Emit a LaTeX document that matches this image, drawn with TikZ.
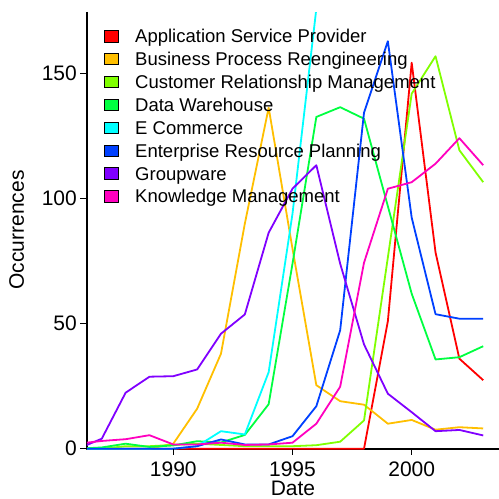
\documentclass[tikz,border=0pt]{standalone}
\usepackage{fontspec}
\setmainfont{Liberation Sans}
\definecolor{cASP}{HTML}{FF0000}
\definecolor{cBPR}{HTML}{FFBF00}
\definecolor{cCRM}{HTML}{80FF00}
\definecolor{cDW}{HTML}{00FF40}
\definecolor{cEC}{HTML}{00FFFF}
\definecolor{cERP}{HTML}{0040FF}
\definecolor{cGW}{HTML}{8000FF}
\definecolor{cKM}{HTML}{FF00BF}
\tikzset{
  series/.style={line width=1.8pt, line join=round},
  axisline/.style={line width=1.5pt, black},
  tickmark/.style={line width=1.3pt, black},
  axistext/.style={font=\fontsize{21}{25}\selectfont, inner sep=0pt, text=black},
  legtext/.style={font=\fontsize{18.5}{22}\selectfont, inner sep=0pt, anchor=base west, text=black},
  legkey/.style={draw=black, line width=1pt, minimum width=14pt, minimum height=11.5pt, inner sep=0pt}
}
\begin{document}
\begin{tikzpicture}[x=1pt,y=1pt]
\useasboundingbox (0,0) rectangle (499,499);
% axes
\coordinate (ytop) at (87,487);
\coordinate (orig) at (87,50);
\coordinate (xend) at (499,50);
\draw[axisline] (ytop) -- (orig) -- (xend);
% data
\begin{scope}[shift={(173.3,50.3)}, x=23.84pt, y=2.5pt]
\clip (-3.62,-0.4) rectangle (13.7,174.6);
\draw[series,cASP] plot coordinates {(-4,0) (-3,0) (-2,0) (-1,0) (0,0) (1,0) (2,0) (3,0) (4,0) (5,0) (6,0) (7,0) (8,0) (9,51) (10,154.4) (11,78.5) (12,36) (13,27.4)};
\draw[series,cBPR] plot coordinates {(-4,0) (-3,0) (-2,0) (-1,0) (0,2) (1,16) (2,38) (3,90) (4,136.4) (5,80) (6,25.4) (7,19) (8,17.6) (9,10) (10,11.5) (11,7.6) (12,8.6) (13,8.1)};
\draw[series,cCRM] plot coordinates {(-4,0) (-3,0) (-2,1) (-1,1) (0,1.5) (1,2) (2,1.5) (3,1) (4,1) (5,1) (6,1.4) (7,2.8) (8,11.3) (9,76.5) (10,142) (11,157) (12,119.4) (13,106.6)};
\draw[series,cDW] plot coordinates {(-4,0) (-3,0.5) (-2,2) (-1,0.7) (0,1.3) (1,3) (2,2.5) (3,5.5) (4,17.8) (5,74) (6,132.7) (7,136.6) (8,132) (9,97) (10,62) (11,35.7) (12,36.6) (13,41)};
\draw[series,cEC] plot coordinates {(-4,0) (-3,0) (-2,0) (-1,0) (0,0) (1,1) (2,7) (3,5.7) (4,30.6) (5,94) (6,176) (7,400) (8,600) (9,800) (10,900) (11,800) (12,700) (13,600)};
\draw[series,cERP] plot coordinates {(-4,0) (-3,0) (-2,0) (-1,0) (0,0) (1,1) (2,3.7) (3,1.7) (4,1.7) (5,5) (6,17) (7,47.4) (8,134.4) (9,163) (10,92.4) (11,53.8) (12,52) (13,52)};
\draw[series,cGW] plot coordinates {(-4,0) (-3,4) (-2,22.4) (-1,28.8) (0,29) (1,31.7) (2,46) (3,53.7) (4,86.4) (5,104) (6,113.4) (7,74) (8,41.7) (9,22) (10,14.6) (11,7) (12,7.5) (13,5.3)};
\draw[series,cKM] plot coordinates {(-4,2) (-3,3.1) (-2,3.8) (-1,5.4) (0,1.7) (1,1.7) (2,2.4) (3,1.5) (4,1.7) (5,2.4) (6,10) (7,24.8) (8,74.4) (9,104) (10,106.6) (11,114) (12,124.2) (13,113.4)};
\end{scope}
% y ticks
\foreach \v in {0,50,100,150}{
  \pgfmathsetmacro{\ty}{50.3+2.5*\v}
  \coordinate (yt\v) at (87,\ty);
  \draw[tickmark] (yt\v) -- ++(-7,0);
  \node[axistext, anchor=east] (yl\v) at (77,\ty) {\v};
}
% x ticks
\foreach \yr/\px in {1990/173.3,1995/292.5,2000/411.7}{
  \coordinate (xt\yr) at (\px,50);
  \draw[tickmark] (xt\yr) -- ++(0,-6);
  \node[axistext, anchor=base] (xl\yr) at (\px,22.3) {\yr};
}
% titles
\node[axistext, anchor=base] (xtitle) at (293,3.3) {Date};
\node[axistext, rotate=90, anchor=center] (ytitle) at (16.7,269) {Occurrences};
% legend
\foreach \i/\c/\t in {0/cASP/Application Service Provider,1/cBPR/Business Process Reengineering,2/cCRM/Customer Relationship Management,3/cDW/Data Warehouse,4/cEC/E Commerce,5/cERP/Enterprise Resource Planning,6/cGW/Groupware,7/cKM/Knowledge Management}{
  \pgfmathsetmacro{\ly}{462.7-22.9*\i}
  \node[legkey, fill=\c] (key\i) at (111,\ly) {};
  \node[legtext] (lab\i) at (135,\ly-6.4) {\t};
}
\end{tikzpicture}
\end{document}
